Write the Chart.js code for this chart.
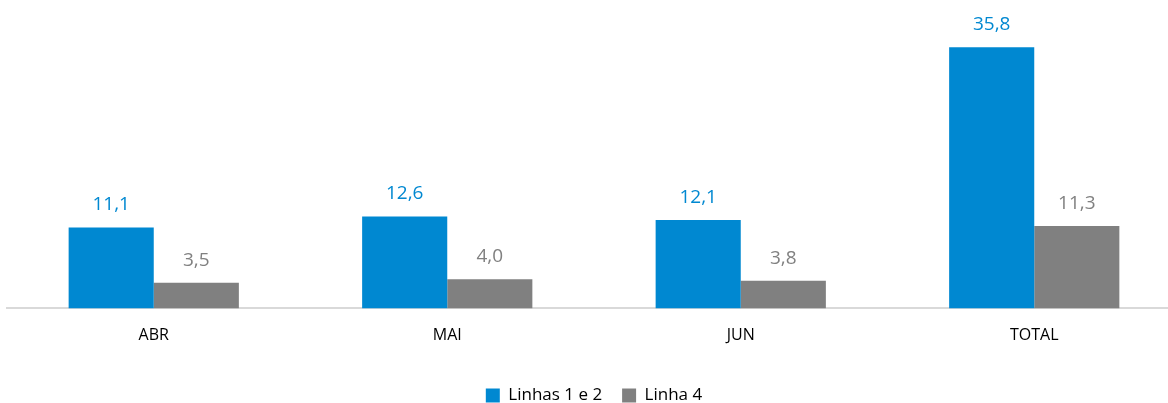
<!DOCTYPE html>
<html>
<head>
<meta charset="utf-8">
<script src="https://cdn.jsdelivr.net/npm/chart.js@4/dist/chart.umd.min.js"></script>
<style>
  html, body { margin: 0; padding: 0; background: #fff; overflow: hidden; }
  #wrap { width: 1168px; height: 403px; overflow: hidden; }
</style>
</head>
<body>
<div id="wrap"><canvas id="chart" width="1200" height="414"></canvas></div>
<script>
const months = ['ABR', 'MAI', 'JUN', 'TOTAL'];
const linhas12 = [11.1, 12.6, 12.1, 35.8];
const linha4 = [3.5, 4.0, 3.8, 11.3];

const BLUE = '#0088D1';
const GRAY = '#808080';
const FONT = "'Open Sans', 'Noto Sans', sans-serif";

// write the values above each bar, comma as decimal mark
const valueLabels = {
  id: 'valueLabels',
  afterDatasetsDraw(chart) {
    const { ctx } = chart;
    ctx.save();
    ctx.font = '19px ' + FONT;
    ctx.textAlign = 'center';
    ctx.textBaseline = 'alphabetic';
    chart.data.datasets.forEach((ds, i) => {
      const meta = chart.getDatasetMeta(i);
      ctx.fillStyle = ds.backgroundColor;
      meta.data.forEach((bar, j) => {
        const txt = ds.data[j].toFixed(1).replace('.', ',');
        ctx.fillText(txt, bar.x, bar.y - 17);
      });
    });
    ctx.restore();
  }
};

new Chart(document.getElementById('chart'), {
  type: 'bar',
  data: {
    labels: months,
    datasets: [
      { label: 'Linhas 1 e 2', data: linhas12, backgroundColor: BLUE },
      { label: 'Linha 4', data: linha4, backgroundColor: GRAY }
    ]
  },
  options: {
    responsive: false,
    animation: false,
    datasets: { bar: { categoryPercentage: 0.58, barPercentage: 1 } },
    layout: { padding: { left: 7, right: 19, top: 16.5, bottom: 0 } },
    scales: {
      x: {
        grid: { display: false, drawTicks: false },
        border: { color: '#d9d9d9', width: 2 },
        ticks: { color: '#000', font: { family: FONT, size: 16 }, padding: 17 },
        afterFit(scale) { scale.height = 58.6; }
      },
      y: { display: false, min: 0, max: 40 }
    },
    plugins: {
      legend: {
        position: 'bottom',
        labels: {
          color: '#000',
          font: { family: FONT, size: 17 },
          boxWidth: 14,
          boxHeight: 14,
          padding: 20,
          useBorderRadius: false
        }
      },
      tooltip: { enabled: false }
    }
  },
  plugins: [valueLabels]
});
</script>
</body>
</html>
